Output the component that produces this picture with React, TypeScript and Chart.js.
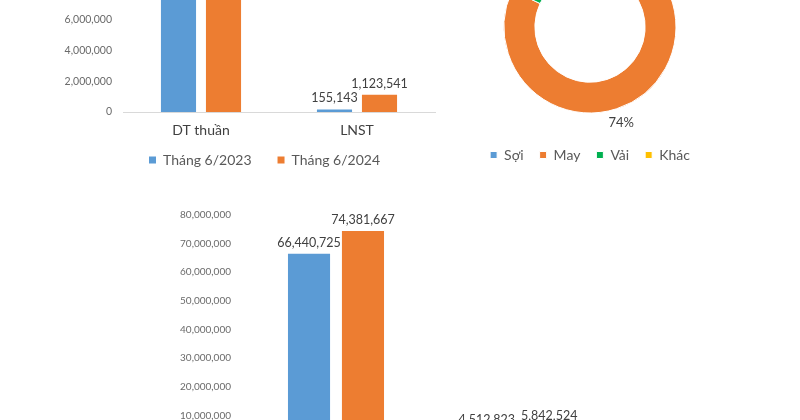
import React, { useEffect, useRef } from 'react';
import { Chart, registerables } from 'chart.js';

Chart.register(...registerables);
Chart.defaults.font.family = "Lato, 'Open Sans', sans-serif";

// ---- Data: top-left bar chart (one month) ----
const monthCategories = ['DT thuần', 'LNST'];
const monthSeriesLabels = ['Tháng 6/2023', 'Tháng 6/2024'];
const month2023 = [11508000, 155143];
const month2024 = [13406000, 1123541];
const monthAxisMax = 14000000;
const monthAxisStep = 2000000;

// ---- Data: top-right doughnut (revenue structure, %) ----
const segmentLabels = ['Sợi', 'May', 'Vải', 'Khác'];
const segmentShares = [8, 74, 15, 3];

// ---- Data: bottom bar chart (six months) ----
const halfCategories = ['DT thuần', 'LNST'];
const halfSeriesLabels = ['6 tháng 2023', '6 tháng 2024'];
const half2023 = [66440725, 4512823];
const half2024 = [74381667, 5842524];
const halfAxisMax = 80000000;
const halfAxisStep = 10000000;

const BLUE = '#5B9BD5';
const ORANGE = '#ED7D31';
const GREEN = '#00B050';
const YELLOW = '#FFC000';
const AXIS_TEXT = '#6b6b6b';
const LABEL_TEXT = '#404040';

const fmt = new Intl.NumberFormat('en-US');

// Value labels above bars; labels of the same category that collide are pushed apart.
const barValueLabels = {
  id: 'barValueLabels',
  afterDatasetsDraw(chart: any) {
    const ctx = chart.ctx;
    ctx.save();
    ctx.font = "12.5px Lato, 'Open Sans', sans-serif";
    ctx.fillStyle = LABEL_TEXT;
    ctx.textAlign = 'center';
    ctx.textBaseline = 'bottom';
    const items: any[] = [];
    chart.data.datasets.forEach((ds: any, di: number) => {
      const meta = chart.getDatasetMeta(di);
      meta.data.forEach((el: any, i: number) => {
        const text = fmt.format(ds.data[i]);
        items.push({ i, text, x: el.x, y: el.y - 5, w: ctx.measureText(text).width });
      });
    });
    const nCat = chart.data.labels.length;
    for (let c = 0; c < nCat; c++) {
      const group = items.filter((it) => it.i === c).sort((a, b) => a.x - b.x);
      for (let k = 1; k < group.length; k++) {
        const a = group[k - 1];
        const b = group[k];
        if (Math.abs(a.y - b.y) < 14) {
          const overlap = a.x + a.w / 2 + 6 - (b.x - b.w / 2);
          if (overlap > 0) {
            a.x -= overlap / 2;
            b.x += overlap / 2;
          }
        }
      }
    }
    items.forEach((it) => ctx.fillText(it.text, it.x, it.y));
    ctx.restore();
  },
};

const sliceLabels = {
  id: 'sliceLabels',
  afterDatasetsDraw(chart: any) {
    const ctx = chart.ctx;
    const data = chart.data.datasets[0].data as number[];
    const total = data.reduce((a, b) => a + b, 0);
    const meta = chart.getDatasetMeta(0);
    ctx.save();
    ctx.font = "13px Lato, 'Open Sans', sans-serif";
    ctx.fillStyle = LABEL_TEXT;
    ctx.textAlign = 'center';
    ctx.textBaseline = 'middle';
    meta.data.forEach((arc: any, i: number) => {
      const p = arc.getProps(['x', 'y', 'startAngle', 'endAngle', 'outerRadius'], true);
      const mid = (p.startAngle + p.endAngle) / 2;
      const r = p.outerRadius + 15;
      ctx.fillText(
        Math.round((data[i] / total) * 100) + '%',
        p.x + Math.cos(mid) * r,
        p.y + Math.sin(mid) * r
      );
    });
    ctx.restore();
  },
};

function barConfig(
  labels: string[],
  seriesLabels: string[],
  a: number[],
  b: number[],
  max: number,
  step: number,
  axisWidth: number,
  tickPad: number,
  tickSize: number,
  catPct: number,
  rightPad: number
): any {
  return {
    type: 'bar',
    data: {
      labels,
      datasets: [
        { label: seriesLabels[0], data: a, backgroundColor: BLUE, categoryPercentage: catPct, barPercentage: 0.78 },
        { label: seriesLabels[1], data: b, backgroundColor: ORANGE, categoryPercentage: catPct, barPercentage: 0.78 },
      ],
    },
    options: {
      responsive: false,
      animation: false,
      layout: { padding: { top: 10, right: rightPad, left: 0, bottom: 0 } },
      plugins: {
        tooltip: { enabled: false },
        legend: {
          position: 'bottom',
          fullSize: false,
          align: 'start',
          labels: { boxWidth: 7, boxHeight: 7, padding: 26, color: '#595959', font: { size: 14 } },
        },
      },
      scales: {
        x: {
          grid: { display: false, drawTicks: false },
          border: { color: '#d9d9d9', width: 1 },
          // mirrored with a negative padding: the label sits below the axis line without being clipped
          ticks: { mirror: true, padding: -27, color: LABEL_TEXT, font: { size: 14 } },
          afterFit: (s: any) => {
            s.height = 15;
          },
        },
        y: {
          min: 0,
          max,
          grid: { display: false, drawTicks: false },
          border: { display: false },
          ticks: {
            stepSize: step,
            padding: tickPad,
            color: AXIS_TEXT,
            font: { size: tickSize },
            callback: (v: any) => fmt.format(v),
          },
          afterFit: (s: any) => {
            s.width = axisWidth;
          },
        },
      },
    },
    plugins: [barValueLabels],
  };
}

function ChartBox(props: { left: number; top: number; width: number; height: number; make: () => any }) {
  const ref = useRef<HTMLCanvasElement | null>(null);
  useEffect(() => {
    if (!ref.current) return;
    const chart = new Chart(ref.current, props.make());
    return () => chart.destroy();
  }, []);
  return (
    <div style={{ position: 'absolute', left: props.left, top: props.top, width: props.width, height: props.height }}>
      <canvas
        ref={ref}
        width={props.width}
        height={props.height}
        style={{ width: props.width, height: props.height, display: 'block' }}
      />
    </div>
  );
}

export default function App() {
  return (
    <div
      style={{
        position: 'fixed',
        left: 0,
        top: 0,
        width: 800,
        height: 420,
        overflow: 'hidden',
        background: '#ffffff',
      }}
    >
      <ChartBox
        left={0}
        top={-120}
        width={440}
        height={297}
        make={() =>
          barConfig(monthCategories, monthSeriesLabels, month2023, month2024, monthAxisMax, monthAxisStep, 123, 11, 10.5, 0.577, 5)
        }
      />
      <ChartBox
        left={420}
        top={-78}
        width={340}
        height={250}
        make={() => ({
          type: 'doughnut',
          data: {
            labels: segmentLabels,
            datasets: [
              {
                data: segmentShares,
                backgroundColor: [BLUE, ORANGE, GREEN, YELLOW],
                borderColor: '#ffffff',
                borderWidth: 1,
              },
            ],
          },
          options: {
            responsive: false,
            animation: false,
            radius: 86,
            cutout: 67,
            layout: { padding: 0 },
            plugins: {
              tooltip: { enabled: false },
              legend: {
                position: 'bottom',
                labels: { boxWidth: 7, boxHeight: 7, padding: 16, color: '#595959', font: { size: 14 } },
              },
            },
          },
          plugins: [sliceLabels],
        })}
      />
      <ChartBox
        left={0}
        top={195}
        width={609}
        height={314}
        make={() =>
          barConfig(halfCategories, halfSeriesLabels, half2023, half2024, halfAxisMax, halfAxisStep, 245, 14, 10, 0.593, 0)
        }
      />
    </div>
  );
}
